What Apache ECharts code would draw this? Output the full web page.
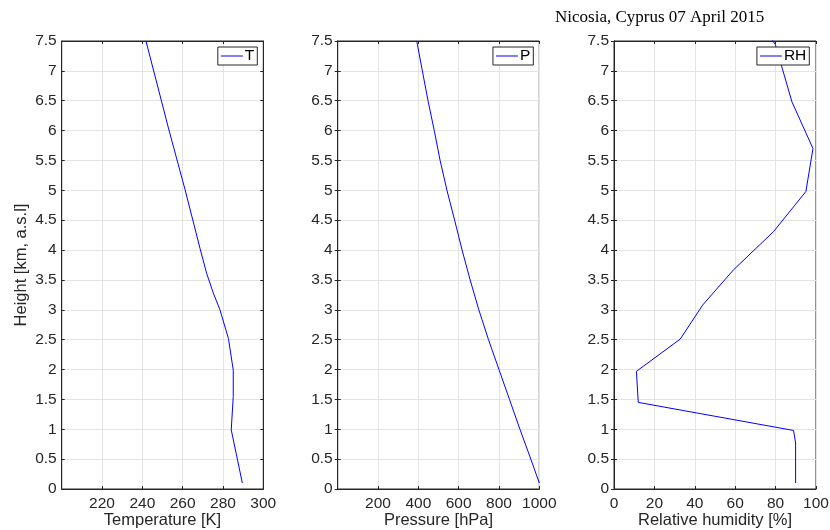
<!DOCTYPE html>
<html>
<head>
<meta charset="utf-8">
<script src="https://cdn.jsdelivr.net/npm/echarts@6/dist/echarts.min.js"></script>
<style>
  html, body { margin: 0; padding: 0; background: #fff; }
  #chart { width: 830px; height: 530px; }
</style>
</head>
<body>
<div id="chart"></div>
<script>
// temperature profile
var tHeight = [0.1, 0.99, 1.55, 1.99, 2.52, 3.0, 3.28, 3.61, 4.03, 5.01, 6.01, 7.5];
var tValue = [289.6, 284.1, 285.1, 285.1, 282.7, 278.5, 275.2, 271.9, 268.6, 261.2, 253.2, 241.8];
// pressure profile
var pHeight = [0.1, 0.5, 1.0, 1.5, 2.0, 2.5, 3.0, 3.5, 4.0, 4.5, 5.0, 5.5, 6.0, 6.5, 7.0, 7.5];
var pValue = [1000, 958, 904, 852, 800, 748, 700, 657, 617, 580, 542, 508, 479, 448, 420, 392];
// relative humidity profile
var rhHeight = [0.1, 0.77, 0.98, 1.45, 1.97, 2.51, 3.08, 3.67, 4.31, 4.98, 5.70, 6.48, 7.44, 7.56];
var rhValue = [89.9, 89.9, 88.9, 12.0, 11.1, 32.8, 43.9, 59.2, 79.0, 95.0, 98.5, 88.1, 79.9, 77.5];

var xNames = ['Temperature [K]', 'Pressure [hPa]', 'Relative humidity [%]'];
var xRanges = [[200, 300, 20], [0, 1000, 200], [0, 100, 20]];
var seriesNames = ['T', 'P', 'RH'];

function pairs(xs, hs) {
  return xs.map(function (v, i) { return [v, hs[i]]; });
}

var font = 'Liberation Sans';
var ink = '#262626';
var lefts = [61.7, 337.7, 614];
var widths = [201.6, 201.6, 202];
var legendRight = [572.7, 296.7, 20.7];

var grids = [], xAxes = [], yAxes = [], legends = [];
for (var i = 0; i < 3; i++) {
  grids.push({
    left: lefts[i], width: widths[i], top: 41, height: 448, outerBoundsMode: 'none',
    show: true, borderColor: ink, borderWidth: 1
  });
  xAxes.push({
    type: 'value', gridIndex: i, min: xRanges[i][0], max: xRanges[i][1], interval: xRanges[i][2],
    name: xNames[i], nameLocation: 'middle', nameGap: 23, nameMoveOverlap: false,
    nameTextStyle: { fontFamily: font, fontSize: 16.5, color: ink },
    axisLine: { onZero: false, lineStyle: { color: ink } },
    axisTick: { inside: true, length: 3, lineStyle: { color: ink } },
    axisLabel: {
      fontFamily: font, fontSize: 15.5, color: ink, margin: 7, showMinLabel: i === 2,
      formatter: function (v) { return String(v); }
    },
    splitLine: { show: true, lineStyle: { color: '#e3e3e3' } }
  });
  yAxes.push({
    type: 'value', gridIndex: i, min: 0, max: 7.5, interval: 0.5,
    name: i === 0 ? 'Height [km, a.s.l]' : '', nameLocation: 'middle', nameGap: 32, nameMoveOverlap: false,
    nameTextStyle: { fontFamily: font, fontSize: 16.5, color: ink },
    axisLine: { show: true, lineStyle: { color: ink } },
    axisTick: { inside: true, length: 3, lineStyle: { color: ink } },
    axisLabel: { fontFamily: font, fontSize: 15.5, color: ink, margin: 5 },
    splitLine: { show: true, lineStyle: { color: '#e3e3e3' } }
  });
  legends.push({
    data: [seriesNames[i]], right: legendRight[i], top: 47,
    orient: 'vertical', backgroundColor: '#fff', borderColor: ink, borderWidth: 1,
    padding: [1, 3, 1, 3], icon: 'rect', itemWidth: 22, itemHeight: 1, itemGap: 0,
    textStyle: { fontFamily: font, fontSize: 15.5, color: '#000', padding: [0, 0, 0, -3] }
  });
}
// mirrored ticks on top and right edges
for (var j = 0; j < 3; j++) {
  xAxes.push({
    type: 'value', gridIndex: j, position: 'top', min: xRanges[j][0], max: xRanges[j][1], interval: xRanges[j][2],
    axisLine: { show: true, onZero: false, lineStyle: { color: ink } },
    axisTick: { inside: true, length: 3, lineStyle: { color: ink } },
    axisLabel: { show: false }, splitLine: { show: false }
  });
  yAxes.push({
    type: 'value', gridIndex: j, position: 'right', min: 0, max: 7.5, interval: 0.5,
    axisLine: { show: true, lineStyle: { color: ink } },
    axisTick: { inside: true, length: 3, lineStyle: { color: ink } },
    axisLabel: { show: false }, splitLine: { show: false }
  });
}

var dataSets = [pairs(tValue, tHeight), pairs(pValue, pHeight), pairs(rhValue, rhHeight)];
var series = dataSets.map(function (d, k) {
  return {
    name: seriesNames[k], type: 'line', xAxisIndex: k, yAxisIndex: k, data: d,
    symbol: 'none', clip: true, animation: false,
    lineStyle: { color: '#0000ff', width: 1 }, itemStyle: { color: '#0000ff' }
  };
});

var chart = echarts.init(document.getElementById('chart'));
chart.setOption({
  animation: false,
  title: {
    text: 'Nicosia, Cyprus 07 April 2015', left: 550, top: 4,
    textStyle: { fontFamily: 'Liberation Serif', fontSize: 17, fontWeight: 'normal', color: '#000' }
  },
  grid: grids,
  xAxis: xAxes,
  yAxis: yAxes,
  legend: legends,
  series: series
});
</script>
</body>
</html>
